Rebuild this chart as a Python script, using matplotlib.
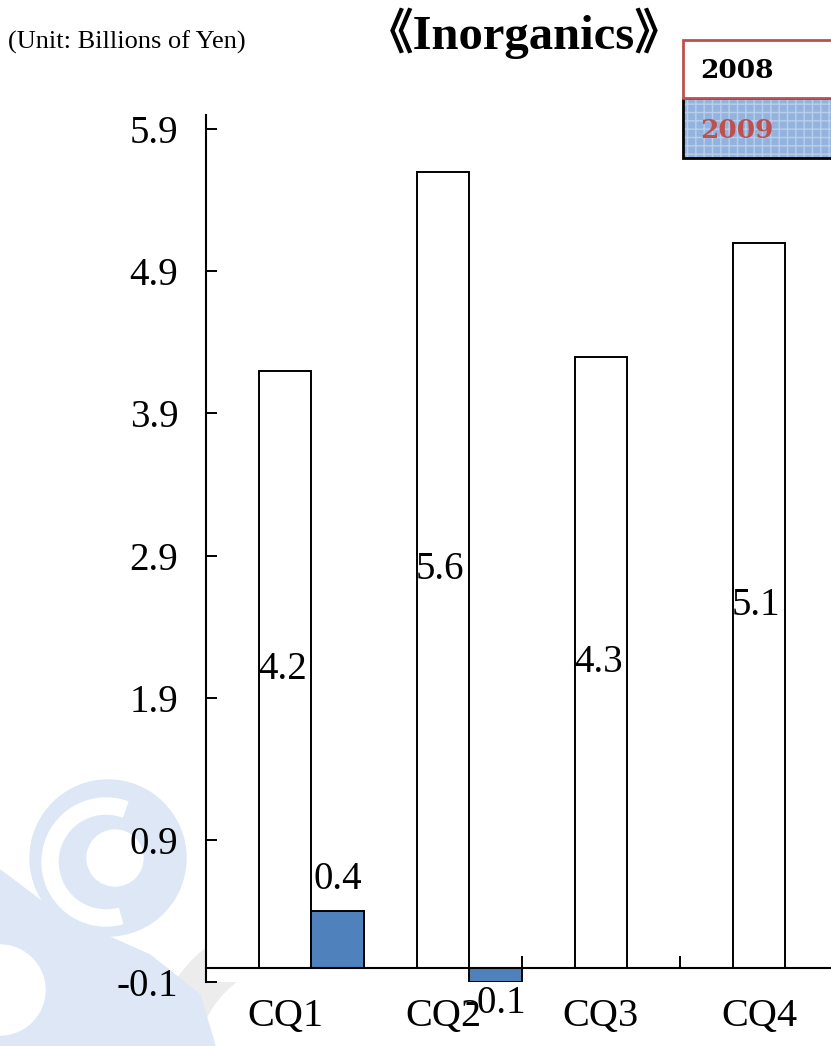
import numpy as np
import matplotlib.pyplot as plt
from matplotlib.patches import Circle, Wedge, Polygon, Rectangle

# data
quarters = ["CQ1", "CQ2", "CQ3", "CQ4"]
sales_2008 = [4.2, 5.6, 4.3, 5.1]
sales_2009 = [0.4, -0.1, np.nan, np.nan]
yticks = [-0.1, 0.9, 1.9, 2.9, 3.9, 4.9, 5.9]

serif = ["Liberation Serif", "Noto Sans CJK JP", "DejaVu Serif"]
blue = "#4F81BD"
red = "#C0504D"

fig = plt.figure(figsize=(8.31, 10.46), dpi=100)

# faint watermark in the lower left, drawn in pixel coordinates
bg = fig.add_axes([0, 0, 1, 1], zorder=0)
bg.set_xlim(0, 831)
bg.set_ylim(1046, 0)
bg.axis("off")
wm_blue = "#DDE7F6"
wm_grey = "#ECECEC"
bg.add_patch(Wedge((300, 1065), 150, 150, 300, width=45, color=wm_grey))
bg.add_patch(Polygon([(0, 870), (60, 915), (150, 955), (200, 995), (215, 1046), (0, 1046)],
                     color=wm_blue))
bg.add_patch(Wedge((0, 990), 45, -90, 90, color="white"))
bg.add_patch(Circle((108, 858), 78, color=wm_blue))
bg.add_patch(Wedge((106, 862), 64, 75, 290, width=16, color="white"))
bg.add_patch(Circle((115, 858), 28, color="white"))

# main chart
ax = fig.add_axes([206 / 831, 64 / 1046, 632 / 831, 867 / 1046], zorder=1)
ax.set_facecolor("white")
x = np.arange(len(quarters))
w = 1 / 3
ax.bar(x + w, sales_2008, width=w, align="edge", color="white", edgecolor="black", linewidth=1.4, zorder=2)
ax.bar(x + 2 * w, sales_2009, width=w, align="edge", color=blue, edgecolor="black", linewidth=1.4, zorder=2)

for xi, v in zip(x, sales_2008):
    ax.text(xi + 1.45 * w, v / 2, f"{v:.1f}", ha="center", va="center", fontsize=28, family=serif, zorder=3)
for xi, v in zip(x, sales_2009):
    if np.isnan(v):
        continue
    off = 16 if v >= 0 else -22
    ax.annotate(f"{v:.1f}", (xi + 2.5 * w, v), xytext=(0, off), textcoords="offset points",
                ha="center", va="baseline", fontsize=28, family=serif, zorder=3)

ax.set_xlim(0, 4)
ax.set_ylim(-0.1, 6.0)
ax.spines["top"].set_visible(False)
ax.spines["right"].set_visible(False)
ax.spines["bottom"].set_position(("data", 0))
for s in ("left", "bottom"):
    ax.spines[s].set_linewidth(1.5)

ax.set_yticks(yticks)
ax.set_yticklabels([f"{t:.1f}" for t in yticks])
ax.tick_params(axis="y", direction="in", length=8, width=1.4, pad=20, labelsize=28)
ax.set_xticks(x)
ax.set_xticklabels([])
ax.tick_params(axis="x", which="major", direction="in", length=9, width=1.4)
ax.set_xticks(x + 0.5, minor=True)
ax.set_xticklabels(quarters, minor=True)
ax.tick_params(axis="x", which="minor", length=0, pad=22, labelsize=29)
for lab in ax.get_xticklabels(minor=True) + ax.get_yticklabels():
    lab.set_family(serif)

# titles
fig.text(524 / 831, 1 - 33 / 1046, "《Inorganics》", ha="center", va="center",
         fontsize=35, fontweight="bold", family=serif)
fig.text(8 / 831, 1 - 42 / 1046, "(Unit: Billions of Yen)", ha="left", va="center",
         fontsize=19, family=serif)

# legend boxes
lg = fig.add_axes([0, 0, 1, 1], zorder=3)
lg.set_xlim(0, 831)
lg.set_ylim(1046, 0)
lg.axis("off")
lg.add_patch(Rectangle((683, 98), 160, 60, facecolor="#93B3DE", edgecolor="#B9CEEA",
                       hatch="++", linewidth=0))
lg.add_patch(Rectangle((683, 98), 160, 60, facecolor="none", edgecolor="black", linewidth=2))
lg.add_patch(Rectangle((683, 40), 160, 58, facecolor="white", edgecolor=red, linewidth=2))
lg.text(700, 70, "2008", ha="left", va="center", fontsize=19, fontweight="bold",
        family="DejaVu Serif", color="black")
lg.text(700, 131, "2009", ha="left", va="center", fontsize=19, fontweight="bold",
        family="DejaVu Serif", color=red)

fig.savefig("out.png", dpi=100)
